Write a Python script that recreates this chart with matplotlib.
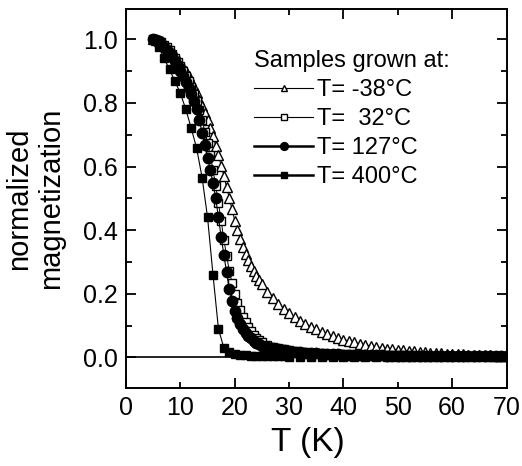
import numpy as np
import matplotlib
matplotlib.use("Agg")
import matplotlib.pyplot as plt
from matplotlib.ticker import MultipleLocator, FormatStrFormatter

plt.rcParams['font.family'] = ['Liberation Sans', 'DejaVu Sans']

# temperature grid shared by the three dense data sets (K)
T_dense = [5, 5.5, 6, 6.5, 7, 7.5, 8, 8.5, 9, 9.5, 10, 10.5, 11, 11.5, 12, 12.5,
           13, 13.5, 14, 14.5, 15, 15.5, 16, 16.5, 17, 17.5, 18, 18.5, 19, 19.5,
           20, 20.5, 21, 21.5, 22, 22.5, 23, 23.5, 24, 24.5, 25,
           26, 27, 28, 29, 30, 31, 32, 33, 34, 35, 36, 37, 38, 39, 40,
           41, 42, 43, 44, 45, 46, 47, 48, 49, 50, 51, 52, 53, 54, 55,
           56, 57, 58, 59, 60, 61, 62, 63, 64, 65, 66, 67, 68, 69, 70]

# T = -38 C (open triangles)
m_m38 = [1.000, 0.998, 0.995, 0.990, 0.985, 0.978, 0.970, 0.960, 0.950, 0.938,
         0.925, 0.913, 0.900, 0.885, 0.870, 0.850, 0.830, 0.810, 0.790, 0.768,
         0.745, 0.720, 0.695, 0.665, 0.635, 0.603, 0.570, 0.535, 0.500, 0.465,
         0.430, 0.400, 0.372, 0.348, 0.326, 0.306, 0.288, 0.272, 0.257, 0.243, 0.230,
         0.207, 0.187, 0.169, 0.153, 0.139, 0.127, 0.116, 0.106, 0.097, 0.088,
         0.080, 0.073, 0.067, 0.061, 0.056, 0.051, 0.047, 0.043, 0.040, 0.036,
         0.033, 0.031, 0.028, 0.026, 0.024, 0.022, 0.020, 0.019, 0.017, 0.016,
         0.015, 0.014, 0.013, 0.012, 0.011, 0.010, 0.010, 0.009, 0.008, 0.008,
         0.007, 0.007, 0.006, 0.006, 0.005]

# T = 32 C (open squares)
m_32 = [1.000, 0.998, 0.995, 0.990, 0.983, 0.975, 0.965, 0.953, 0.940, 0.928,
        0.915, 0.900, 0.885, 0.868, 0.850, 0.828, 0.805, 0.777, 0.745, 0.710,
        0.675, 0.635, 0.590, 0.540, 0.485, 0.430, 0.370, 0.320, 0.272, 0.235,
        0.200, 0.172, 0.148, 0.128, 0.110, 0.095, 0.082, 0.071, 0.062, 0.055, 0.049,
        0.040, 0.034, 0.029, 0.025, 0.022, 0.020, 0.018, 0.016, 0.015, 0.014,
        0.013, 0.012, 0.011, 0.011, 0.010, 0.010, 0.009, 0.009, 0.009, 0.008,
        0.008, 0.008, 0.007, 0.007, 0.007, 0.007, 0.006, 0.006, 0.006, 0.006,
        0.005, 0.005, 0.005, 0.005, 0.005, 0.005, 0.004, 0.004, 0.004, 0.004,
        0.004, 0.004, 0.004, 0.004, 0.004]

# T = 127 C (filled circles)
m_127 = [1.000, 0.998, 0.993, 0.985, 0.977, 0.967, 0.956, 0.944, 0.930, 0.916,
         0.900, 0.884, 0.866, 0.848, 0.828, 0.806, 0.782, 0.745, 0.705, 0.667,
         0.628, 0.590, 0.548, 0.500, 0.440, 0.380, 0.322, 0.268, 0.215, 0.177,
         0.145, 0.124, 0.105, 0.090, 0.078, 0.068, 0.060, 0.052, 0.046, 0.041, 0.037,
         0.033, 0.029, 0.025, 0.022, 0.019, 0.017, 0.016, 0.015, 0.014, 0.013,
         0.012, 0.011, 0.010, 0.010, 0.009, 0.009, 0.008, 0.008, 0.008, 0.007,
         0.007, 0.007, 0.006, 0.006, 0.006, 0.006, 0.005, 0.005, 0.005, 0.005,
         0.005, 0.004, 0.004, 0.004, 0.004, 0.004, 0.004, 0.004, 0.003, 0.003,
         0.003, 0.003, 0.003, 0.003, 0.003]

# T = 400 C (filled squares)
T_400 = [5, 6, 7, 8, 9, 10, 11, 12, 13, 14, 15, 16, 17, 18, 19, 20, 21, 22, 23,
         24, 25, 26, 27, 28, 29, 30, 32, 34, 36, 38, 40, 42, 44, 46, 48, 50,
         52, 54, 56, 58, 60, 62, 64, 66, 68, 70]
m_400 = [1.000, 0.975, 0.940, 0.905, 0.868, 0.830, 0.780, 0.720, 0.657, 0.565,
         0.440, 0.260, 0.090, 0.030, 0.018, 0.012, 0.009, 0.007, 0.005,
         0.004, 0.003, 0.003, 0.003, 0.003, 0.003, 0.002, 0.002, 0.002, 0.002,
         0.002, 0.002, 0.002, 0.002, 0.002, 0.002, 0.002, 0.002, 0.002, 0.002,
         0.002, 0.002, 0.002, 0.002, 0.002, 0.002, 0.002]

labels = ['T= -38°C', 'T=  32°C', 'T= 127°C', 'T= 400°C']

fig = plt.figure(figsize=(5.22, 4.66), dpi=100)
ax = fig.add_axes([0.2414, 0.1674, 0.729, 0.8133])

ax.axhline(0, color='black', lw=1.2, zorder=1)

ax.plot(T_dense, m_m38, '-^', color='black', lw=0.7, ms=6.5, mfc='white',
        mec='black', mew=1.0, label=labels[0])
ax.plot(T_dense, m_32, '-s', color='black', lw=0.7, ms=5.2, mfc='white',
        mec='black', mew=1.0, label=labels[1])
ax.plot(T_dense, m_127, '-o', color='black', lw=0.8, ms=7.5, mfc='black',
        mec='black', label=labels[2])
ax.plot(T_400, m_400, '-s', color='black', lw=0.8, ms=6, mfc='black',
        mec='black', label=labels[3])

ax.set_xlim(0, 70)
ax.set_ylim(-0.096, 1.095)

ax.xaxis.set_major_locator(MultipleLocator(20))
ax.xaxis.set_minor_locator(MultipleLocator(10))
ax.xaxis.set_minor_formatter(FormatStrFormatter('%d'))
ax.yaxis.set_major_locator(MultipleLocator(0.2))
ax.yaxis.set_minor_locator(MultipleLocator(0.1))
ax.yaxis.set_major_formatter(FormatStrFormatter('%.1f'))

ax.tick_params(which='both', direction='in', top=True, right=True,
               labelsize=18, width=1.3)
ax.tick_params(which='major', length=7)
ax.tick_params(which='minor', length=4)
ax.tick_params(axis='x', which='both', pad=6)
ax.tick_params(axis='y', which='both', pad=6)
for s in ax.spines.values():
    s.set_linewidth(1.4)

ax.set_xlabel('T (K)', fontsize=24)
ax.set_ylabel('normalized\nmagnetization', fontsize=21)
ax.xaxis.set_label_coords(0.478, -0.103)
ax.yaxis.set_label_coords(-0.16, 0.5)

leg = ax.legend(loc='upper left', bbox_to_anchor=(0.294, 0.935), frameon=False,
                fontsize=17, title='Samples grown at:', title_fontsize=17,
                alignment='left', handlelength=2.5, handletextpad=0.15,
                labelspacing=0.3, markerscale=0.75, borderpad=0.2)
for h, w in zip(leg.get_lines(), [0.8, 0.8, 1.8, 1.8]):
    h.set_linewidth(w)

fig.savefig('out.png', dpi=100)
